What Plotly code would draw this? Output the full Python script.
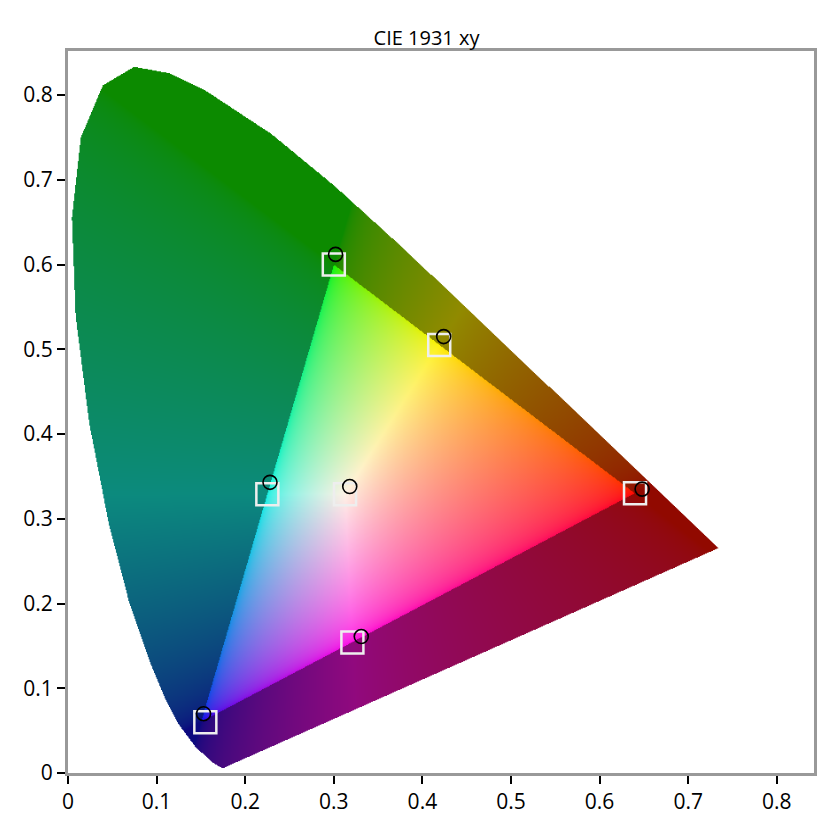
import base64
import struct
import zlib

import numpy as np
import plotly.graph_objects as go

# spectral locus (CIE 1931 2 deg), chromaticity x / y
locus_x = [0.1741, 0.1644, 0.1440, 0.1241, 0.1096, 0.0913, 0.0687, 0.0454, 0.0235, 0.0082,
           0.0039, 0.0139, 0.0389, 0.0743, 0.1142, 0.1547, 0.2296, 0.3016, 0.3731, 0.4441,
           0.5125, 0.5752, 0.6270, 0.6915, 0.7190, 0.7347]
locus_y = [0.0050, 0.0109, 0.0297, 0.0578, 0.0868, 0.1327, 0.2007, 0.2950, 0.4127, 0.5384,
           0.6548, 0.7502, 0.8120, 0.8338, 0.8262, 0.8059, 0.7543, 0.6923, 0.6245, 0.5547,
           0.4866, 0.4242, 0.3725, 0.3083, 0.2809, 0.2653]

# gamut triangle (R, G, B)
gamut_x = [0.64, 0.30, 0.15]
gamut_y = [0.33, 0.60, 0.06]

# target points (squares) and measured points (circles)
target_x = [0.64, 0.30, 0.155, 0.419, 0.225, 0.321, 0.3127]
target_y = [0.33, 0.60, 0.060, 0.505, 0.329, 0.154, 0.329]
meas_x = [0.648, 0.302, 0.153, 0.424, 0.228, 0.331, 0.318]
meas_y = [0.335, 0.612, 0.070, 0.515, 0.343, 0.161, 0.338]

ticks = [0, 0.1, 0.2, 0.3, 0.4, 0.5, 0.6, 0.7, 0.8]
tick_text = ["0", "0.1", "0.2", "0.3", "0.4", "0.5", "0.6", "0.7", "0.8"]


def inside(px, py, vx, vy):
    vx = np.asarray(vx); vy = np.asarray(vy)
    res = np.zeros(px.shape, bool)
    j = len(vx) - 1
    for i in range(len(vx)):
        cond = ((vy[i] > py) != (vy[j] > py)) & \
               (px < (vx[j] - vx[i]) * (py - vy[i]) / (vy[j] - vy[i] + 1e-12) + vx[i])
        res ^= cond
        j = i
    return res


# render colour fill as a PNG
W, H = 760, 860
xs = np.linspace(0, 0.76, W)
ys = np.linspace(0.86, 0, H)
X, Y = np.meshgrid(xs, ys)
Yc = np.maximum(Y, 1e-4)
Xc = X / Yc
Zc = (1 - X - Y) / Yc
r = 3.2406 * Xc - 1.5372 - 0.4986 * Zc
g = -0.9689 * Xc + 1.8758 + 0.0415 * Zc
b = 0.0557 * Xc - 0.2040 + 1.0570 * Zc
rgb = np.clip(np.stack([r, g, b], -1), 0, None)
rgb = rgb / np.maximum(rgb.max(-1, keepdims=True), 1e-9)
rgb = np.where(rgb <= 0.0031308, 12.92 * rgb, 1.055 * rgb ** (1 / 2.4) - 0.055)
# warm tint like the reference
rgb = rgb * np.array([0.95, 0.92, 0.9]) + np.array([0.05, 0.03, 0.0])
in_tri = inside(X, Y, gamut_x, gamut_y)
dark = rgb * 0.55 + np.array([0.02, 0.02, 0.0])
rgb = np.where(in_tri[..., None], rgb, dark)
in_loc = inside(X, Y, locus_x, locus_y)
alpha = np.where(in_loc, 255, 0)
img = np.concatenate([np.clip(rgb * 255, 0, 255), alpha[..., None]], -1).astype(np.uint8)


def png(a):
    h, w, _ = a.shape
    raw = b"".join(b"\x00" + a[i].tobytes() for i in range(h))

    def chunk(t, d):
        c = t + d
        return struct.pack(">I", len(d)) + c + struct.pack(">I", zlib.crc32(c) & 0xffffffff)
    return (b"\x89PNG\r\n\x1a\n" + chunk(b"IHDR", struct.pack(">IIBBBBB", w, h, 8, 6, 0, 0, 0))
            + chunk(b"IDAT", zlib.compress(raw, 9)) + chunk(b"IEND", b""))


src = "data:image/png;base64," + base64.b64encode(png(img)).decode()

fig = go.Figure()
fig.add_trace(go.Scatter(x=target_x, y=target_y, mode="markers",
                         marker=dict(symbol="square-open", size=22, color="#eeeeee", line=dict(width=2.5))))
fig.add_trace(go.Scatter(x=meas_x, y=meas_y, mode="markers",
                         marker=dict(symbol="circle-open", size=14, color="black", line=dict(width=1.6))))

fig.add_layout_image(dict(source=src, xref="x", yref="y", x=0, y=0.86, sizex=0.76, sizey=0.86,
                          sizing="stretch", layer="below"))

fig.update_layout(
    width=837, height=822, showlegend=False,
    plot_bgcolor="white", paper_bgcolor="white",
    margin=dict(l=60, r=31, t=43, b=57),
    title=dict(text="CIE 1931 xy", x=0.5, y=0.963, xanchor="center", yanchor="middle",
               font=dict(family="Open Sans", size=20, color="black")),
    font=dict(family="Open Sans", size=21, color="black"),
)
axis = dict(showgrid=False, zeroline=False, showline=True, mirror=True, linecolor="#999999", linewidth=3,
            ticks="outside", tickcolor="black", ticklen=8, tickwidth=2, automargin=False,
            tickvals=ticks, ticktext=tick_text)
fig.update_xaxes(range=[0, 0.842], **axis)
fig.update_yaxes(range=[0, 0.852], **axis)

fig.write_html("out.html")
